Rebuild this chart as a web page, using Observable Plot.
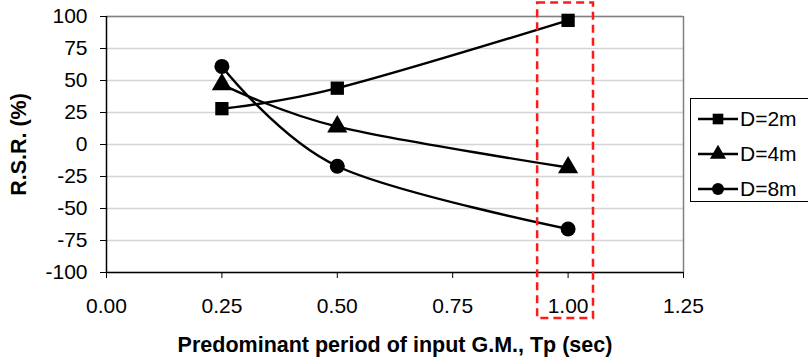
<!DOCTYPE html>
<html>
<head>
<meta charset="utf-8">
<script src="https://cdn.jsdelivr.net/npm/d3@7"></script>
<script src="https://cdn.jsdelivr.net/npm/@observablehq/plot@0.6"></script>
<style>
  html, body { margin: 0; padding: 0; background: #fff; }
  #wrap { position: relative; width: 808px; height: 360px; overflow: hidden; font-family: "Liberation Sans", Arial, sans-serif; }
  #wrap > svg { font-size: 21px !important; }
  #legend { position: absolute; left: 690px; top: 98px; width: 130px; height: 104px; border: 1.5px solid #000; box-sizing: border-box; background: #fff; }
  .item { position: absolute; left: 7px; height: 22px; display: flex; align-items: center; font-size: 21px; color: #000; }
  .item svg { margin-right: 2px; }
  #wrap svg [aria-label="y-axis label"], #wrap svg [aria-label="x-axis label"],
  #wrap svg [aria-label="y-axis label"] text, #wrap svg [aria-label="x-axis label"] text { font-weight: bold !important; font-size: 21.5px !important; }
  #wrap svg [aria-label="x-axis tick label"], #wrap svg [aria-label="y-axis tick label"],
  #wrap svg [aria-label="x-axis tick label"] text, #wrap svg [aria-label="y-axis tick label"] text { font-size: 21px !important; }
</style>
</head>
<body>
<div id="wrap"></div>
<script>
// ---- data ----
const periods = [0.25, 0.5, 1.0];
const seriesNames = ["D=2m", "D=4m", "D=8m"];
const rsrD2 = [28, 44, 97];
const rsrD4 = [47, 14, -18];
const rsrD8 = [61, -17, -66];
const symbols = ["square", "triangle", "circle"];
const xTicks = [0, 0.25, 0.5, 0.75, 1.0, 1.25];
const yTicks = [-100, -75, -50, -25, 0, 25, 50, 75, 100];
// highlight box around Tp = 1.00 (data space)
const highlight = [{x1: 0.934, x2: 1.055, y1: -136, y2: 110.5}];

const values = [rsrD2, rsrD4, rsrD8];
const data = [];
seriesNames.forEach((s, i) => periods.forEach((p, j) => data.push({series: s, x: p, y: values[i][j]})));

const plot = Plot.plot({
  width: 808,
  height: 360,
  marginLeft: 106,
  marginRight: 125,
  marginTop: 16,
  marginBottom: 88,
  style: {fontFamily: "Liberation Sans, Arial, sans-serif", fontSize: "21px", color: "#000", background: "#fff", overflow: "visible"},
  x: {domain: [0, 1.25]},
  y: {domain: [-100, 100]},
  symbol: {domain: seriesNames, range: symbols},
  marks: [
    Plot.gridY(yTicks, {stroke: "#d4d4d4", strokeOpacity: 1, strokeWidth: 1.3}),
    Plot.ruleY([100], {stroke: "#808080", strokeWidth: 1.5}),
    Plot.ruleX([1.25], {stroke: "#808080", strokeWidth: 1.5}),
    Plot.axisX({ticks: xTicks, tickFormat: d3.format(".2f"), tickSize: 6, tickPadding: 20, fontSize: 21,
      label: "Predominant period of input G.M., Tp (sec)", labelAnchor: "center", labelOffset: 79, labelArrow: "none"}),
    Plot.axisY({ticks: yTicks, tickFormat: d => String(d), tickSize: 6, tickPadding: 13, fontSize: 21,
      label: "R.S.R. (%)", labelAnchor: "center", labelOffset: 96, labelArrow: "none"}),
    Plot.ruleX([0], {stroke: "#000", strokeWidth: 1.5}),
    Plot.ruleY([-100], {stroke: "#000", strokeWidth: 1.5}),
    Plot.line(data, {x: "x", y: "y", z: "series", stroke: "#000", strokeWidth: 2.4, curve: "cardinal"}),
    Plot.dot(data, {x: "x", y: "y", symbol: "series", fill: "#000", r: 7.5}),
    Plot.rect(highlight, {x1: "x1", x2: "x2", y1: "y1", y2: "y2", fill: "none", stroke: "#ff1a1a", strokeWidth: 2.5, strokeDasharray: "8,5"})
  ]
});
document.getElementById("wrap").appendChild(plot);

// legend
const legend = document.createElement("div");
legend.id = "legend";
const tops = [9, 44, 79];
seriesNames.forEach((s, i) => {
  const it = document.createElement("div");
  it.className = "item";
  it.style.top = tops[i] + "px";
  const sv = d3.create("svg").attr("width", 40).attr("height", 22);
  sv.append("line").attr("x1", 0).attr("x2", 40).attr("y1", 11).attr("y2", 11).attr("stroke", "#000").attr("stroke-width", 2.4);
  const sym = {square: d3.symbolSquare, triangle: d3.symbolTriangle, circle: d3.symbolCircle}[symbols[i]];
  sv.append("path").attr("transform", "translate(20,11)").attr("d", d3.symbol(sym, Math.PI * 6 * 6)()).attr("fill", "#000");
  it.appendChild(sv.node());
  const t = document.createElement("span");
  t.textContent = s;
  it.appendChild(t);
  legend.appendChild(it);
});
document.getElementById("wrap").appendChild(legend);
</script>
</body>
</html>
